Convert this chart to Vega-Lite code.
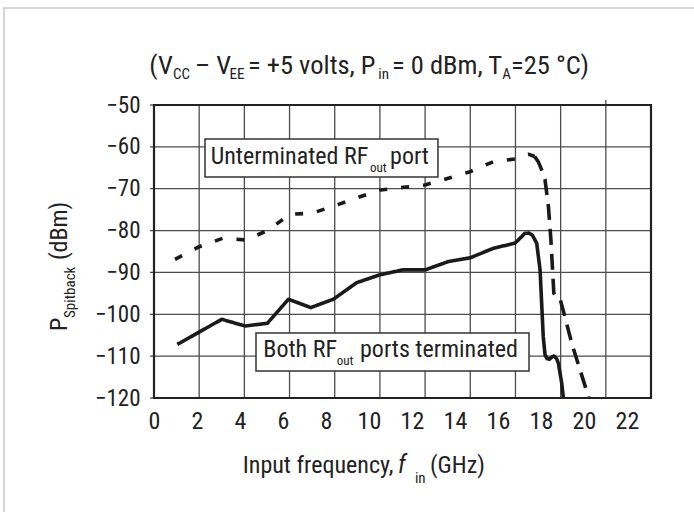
{
  "$schema": "https://vega.github.io/schema/vega-lite/v6.json",
  "width": 497,
  "height": 293,
  "autosize": {"type": "none"},
  "padding": {"left": 154, "top": 105, "right": 43, "bottom": 114},
  "background": "white",
  "config": {
    "view": {"stroke": null},
    "font": "Liberation Sans Narrow, Roboto Condensed, DejaVu Sans Condensed, Arial Narrow, sans-serif"
  },
  "datasets": {
    "series": [
      {"freq": 1.03, "dbm": -107.2, "curve": "Both RFout ports terminated"},
      {"freq": 3.0, "dbm": -101.2, "curve": "Both RFout ports terminated"},
      {"freq": 4.03, "dbm": -102.8, "curve": "Both RFout ports terminated"},
      {"freq": 5.02, "dbm": -102.15, "curve": "Both RFout ports terminated"},
      {"freq": 5.95, "dbm": -96.4, "curve": "Both RFout ports terminated"},
      {"freq": 6.94, "dbm": -98.4, "curve": "Both RFout ports terminated"},
      {"freq": 7.94, "dbm": -96.4, "curve": "Both RFout ports terminated"},
      {"freq": 8.97, "dbm": -92.45, "curve": "Both RFout ports terminated"},
      {"freq": 9.98, "dbm": -90.6, "curve": "Both RFout ports terminated"},
      {"freq": 11.0, "dbm": -89.4, "curve": "Both RFout ports terminated"},
      {"freq": 12.0, "dbm": -89.4, "curve": "Both RFout ports terminated"},
      {"freq": 13.03, "dbm": -87.4, "curve": "Both RFout ports terminated"},
      {"freq": 14.0, "dbm": -86.5, "curve": "Both RFout ports terminated"},
      {"freq": 15.02, "dbm": -84.24, "curve": "Both RFout ports terminated"},
      {"freq": 15.98, "dbm": -83.0, "curve": "Both RFout ports terminated"},
      {"freq": 16.2, "dbm": -81.85, "curve": "Both RFout ports terminated"},
      {"freq": 16.42, "dbm": -80.65, "curve": "Both RFout ports terminated"},
      {"freq": 16.6, "dbm": -80.6, "curve": "Both RFout ports terminated"},
      {"freq": 16.75, "dbm": -81.1, "curve": "Both RFout ports terminated"},
      {"freq": 16.94, "dbm": -83.0, "curve": "Both RFout ports terminated"},
      {"freq": 17.09, "dbm": -89.4, "curve": "Both RFout ports terminated"},
      {"freq": 17.16, "dbm": -97.4, "curve": "Both RFout ports terminated"},
      {"freq": 17.23, "dbm": -105.35, "curve": "Both RFout ports terminated"},
      {"freq": 17.31, "dbm": -109.7, "curve": "Both RFout ports terminated"},
      {"freq": 17.4, "dbm": -110.6, "curve": "Both RFout ports terminated"},
      {"freq": 17.5, "dbm": -110.75, "curve": "Both RFout ports terminated"},
      {"freq": 17.62, "dbm": -110.2, "curve": "Both RFout ports terminated"},
      {"freq": 17.71, "dbm": -109.96, "curve": "Both RFout ports terminated"},
      {"freq": 17.82, "dbm": -110.6, "curve": "Both RFout ports terminated"},
      {"freq": 17.9, "dbm": -111.7, "curve": "Both RFout ports terminated"},
      {"freq": 18.05, "dbm": -116.5, "curve": "Both RFout ports terminated"},
      {"freq": 18.12, "dbm": -120.0, "curve": "Both RFout ports terminated"},
      {"freq": 0.93, "dbm": -86.87, "curve": "Unterminated RFout port"},
      {"freq": 2.0, "dbm": -83.85, "curve": "Unterminated RFout port"},
      {"freq": 3.04, "dbm": -81.85, "curve": "Unterminated RFout port"},
      {"freq": 4.07, "dbm": -82.25, "curve": "Unterminated RFout port"},
      {"freq": 5.02, "dbm": -80.0, "curve": "Unterminated RFout port"},
      {"freq": 6.02, "dbm": -76.1, "curve": "Unterminated RFout port"},
      {"freq": 6.98, "dbm": -75.87, "curve": "Unterminated RFout port"},
      {"freq": 8.01, "dbm": -74.05, "curve": "Unterminated RFout port"},
      {"freq": 9.0, "dbm": -72.15, "curve": "Unterminated RFout port"},
      {"freq": 10.03, "dbm": -70.3, "curve": "Unterminated RFout port"},
      {"freq": 11.04, "dbm": -69.67, "curve": "Unterminated RFout port"},
      {"freq": 12.0, "dbm": -69.1, "curve": "Unterminated RFout port"},
      {"freq": 13.03, "dbm": -67.5, "curve": "Unterminated RFout port"},
      {"freq": 13.99, "dbm": -65.93, "curve": "Unterminated RFout port"},
      {"freq": 15.02, "dbm": -63.54, "curve": "Unterminated RFout port"},
      {"freq": 16.0, "dbm": -62.9, "curve": "Unterminated RFout port"},
      {"freq": 16.28, "dbm": -62.1, "curve": "Unterminated RFout port"},
      {"freq": 16.6, "dbm": -61.8, "curve": "Unterminated RFout port"},
      {"freq": 16.85, "dbm": -62.3, "curve": "Unterminated RFout port"},
      {"freq": 16.85, "dbm": -62.3, "curve": "Unterminated RFout port (roll-off)"},
      {"freq": 17.01, "dbm": -63.54, "curve": "Unterminated RFout port (roll-off)"},
      {"freq": 17.16, "dbm": -65.5, "curve": "Unterminated RFout port (roll-off)"},
      {"freq": 17.31, "dbm": -67.9, "curve": "Unterminated RFout port (roll-off)"},
      {"freq": 17.46, "dbm": -74.3, "curve": "Unterminated RFout port (roll-off)"},
      {"freq": 17.57, "dbm": -82.25, "curve": "Unterminated RFout port (roll-off)"},
      {"freq": 17.65, "dbm": -90.2, "curve": "Unterminated RFout port (roll-off)"},
      {"freq": 17.7, "dbm": -95.0, "curve": "Unterminated RFout port (roll-off)"},
      {"freq": 17.8, "dbm": -95.8, "curve": "Unterminated RFout port (roll-off)"},
      {"freq": 17.97, "dbm": -96.2, "curve": "Unterminated RFout port (roll-off)"},
      {"freq": 18.19, "dbm": -100.6, "curve": "Unterminated RFout port (roll-off)"},
      {"freq": 18.49, "dbm": -106.9, "curve": "Unterminated RFout port (roll-off)"},
      {"freq": 18.86, "dbm": -113.3, "curve": "Unterminated RFout port (roll-off)"},
      {"freq": 19.25, "dbm": -120.0, "curve": "Unterminated RFout port (roll-off)"}
    ],
    "gridlines": [
      {"gridline": "x2", "freq": 2, "dbm": -50}, {"gridline": "x2", "freq": 2, "dbm": -120},
      {"gridline": "x4", "freq": 4, "dbm": -50}, {"gridline": "x4", "freq": 4, "dbm": -120},
      {"gridline": "x6", "freq": 6, "dbm": -50}, {"gridline": "x6", "freq": 6, "dbm": -120},
      {"gridline": "x8", "freq": 8, "dbm": -50}, {"gridline": "x8", "freq": 8, "dbm": -120},
      {"gridline": "x10", "freq": 10, "dbm": -50}, {"gridline": "x10", "freq": 10, "dbm": -120},
      {"gridline": "x12", "freq": 12, "dbm": -50}, {"gridline": "x12", "freq": 12, "dbm": -120},
      {"gridline": "x14", "freq": 14, "dbm": -50}, {"gridline": "x14", "freq": 14, "dbm": -120},
      {"gridline": "x16", "freq": 16, "dbm": -50}, {"gridline": "x16", "freq": 16, "dbm": -120},
      {"gridline": "x18", "freq": 18, "dbm": -50}, {"gridline": "x18", "freq": 18, "dbm": -120},
      {"gridline": "x20", "freq": 20, "dbm": -48.8}, {"gridline": "x20", "freq": 20, "dbm": -120},
      {"gridline": "y-50", "freq": -0.18, "dbm": -50}, {"gridline": "y-50", "freq": 0, "dbm": -50},
      {"gridline": "y-60", "freq": -0.18, "dbm": -60}, {"gridline": "y-60", "freq": 22, "dbm": -60},
      {"gridline": "y-70", "freq": -0.18, "dbm": -70}, {"gridline": "y-70", "freq": 22, "dbm": -70},
      {"gridline": "y-80", "freq": -0.18, "dbm": -80}, {"gridline": "y-80", "freq": 22, "dbm": -80},
      {"gridline": "y-90", "freq": -0.18, "dbm": -90}, {"gridline": "y-90", "freq": 22, "dbm": -90},
      {"gridline": "y-100", "freq": -0.18, "dbm": -100}, {"gridline": "y-100", "freq": 22, "dbm": -100},
      {"gridline": "y-110", "freq": -0.18, "dbm": -110}, {"gridline": "y-110", "freq": 22, "dbm": -110},
      {"gridline": "y-120", "freq": -0.18, "dbm": -120}, {"gridline": "y-120", "freq": 0, "dbm": -120}
    ],
    "frame": [{"freq": -6.64, "freq2": 24.6, "dbm": -26.83, "dbm2": -149.1}],
    "plotBorder": [{"freq": 0, "freq2": 22, "dbm": -50, "dbm2": -120}],
    "labelBoxes": [
      {"label": "Unterminated RFout port", "freq": 2.258, "freq2": 12.57, "dbm": -58.12, "dbm2": -67.2},
      {"label": "Both RFout ports terminated", "freq": 4.515, "freq2": 16.6, "dbm": -104.47, "dbm2": -113.55}
    ],
    "titleMain": [
      {"text": "(V", "freq": -0.208, "dbm": -42.67},
      {"text": "– V", "freq": 1.815, "dbm": -42.67},
      {"text": "= +5 volts, P", "freq": 4.161, "dbm": -42.67},
      {"text": "= 0 dBm, T", "freq": 10.535, "dbm": -42.67},
      {"text": "=25 °C)", "freq": 15.8, "dbm": -42.67}
    ],
    "titleSub": [
      {"text": "CC", "freq": 0.84, "dbm": -43.86},
      {"text": "EE", "freq": 3.34, "dbm": -43.86},
      {"text": "in", "freq": 9.93, "dbm": -43.86},
      {"text": "A", "freq": 15.42, "dbm": -43.86},
      {"text": "in", "freq": 11.55, "dbm": -140.37}
    ],
    "xTitle": [
      {"text": "Input frequency,", "freq": 3.93, "dbm": -137.84},
      {"text": "(GHz)", "freq": 12.22, "dbm": -137.84}
    ],
    "xTitleItalic": [
      {"text": "f", "freq": 10.8, "dbm": -137.84}
    ],
    "yTitle": [
      {"text": "P", "freq": -3.85, "dbm": -103.99},
      {"text": "(dBm)", "freq": -3.85, "dbm": -87.03}
    ],
    "yTitleSub": [
      {"text": "Spitback", "freq": -3.5, "dbm": -100.88}
    ],
    "labelText": [
      {"text": "Unterminated RF", "freq": 2.51, "dbm": -64.09},
      {"text": "port", "freq": 10.45, "dbm": -64.09},
      {"text": "Both RF", "freq": 4.84, "dbm": -110.1},
      {"text": "ports terminated", "freq": 9.12, "dbm": -110.1}
    ],
    "labelSub": [
      {"text": "out", "freq": 9.56, "dbm": -65.93},
      {"text": "out", "freq": 8.09, "dbm": -112.1}
    ]
  },
  "resolve": {"scale": {"x": "independent"}, "axis": {"x": "independent"}},
  "layer": [
    {
      "encoding": {
        "x": {
          "field": "freq", "type": "quantitative",
          "scale": {"domain": [0, 22], "nice": false},
          "axis": null
        },
        "y": {
          "field": "dbm", "type": "quantitative",
          "scale": {"domain": [-120, -50], "nice": false},
          "axis": {
            "values": [-120, -110, -100, -90, -80, -70, -60, -50],
            "grid": false, "domain": false, "ticks": false,
            "labelFontSize": 23, "labelColor": "#222", "labelPadding": 14,
            "title": null
          }
        }
      },
      "layer": [
        {
          "data": {"name": "frame"},
          "mark": {"type": "rect", "fill": "white", "fillOpacity": 0, "stroke": "#c9c9c9", "strokeWidth": 1.5},
          "encoding": {"x2": {"field": "freq2"}, "y2": {"field": "dbm2"}}
        },
        {
          "data": {"name": "gridlines"},
          "mark": {"type": "line", "color": "#4d4d4d", "strokeWidth": 1.3, "strokeCap": "butt"},
          "encoding": {"detail": {"field": "gridline"}}
        },
        {
          "data": {"name": "series"},
          "mark": {"type": "line", "color": "#1a1a1a", "strokeWidth": 3.6, "strokeCap": "butt", "strokeJoin": "round"},
          "encoding": {
            "detail": {"field": "curve"},
            "strokeDash": {
              "field": "curve", "type": "nominal", "legend": null,
              "scale": {
                "domain": ["Both RFout ports terminated", "Unterminated RFout port", "Unterminated RFout port (roll-off)"],
                "range": [[1, 0], [8, 14], [16, 9]]
              }
            }
          }
        },
        {
          "data": {"name": "plotBorder"},
          "mark": {"type": "rect", "fill": "white", "fillOpacity": 0, "stroke": "#222", "strokeWidth": 2.2},
          "encoding": {"x2": {"field": "freq2"}, "y2": {"field": "dbm2"}}
        },
        {
          "data": {"name": "labelBoxes"},
          "mark": {"type": "rect", "fill": "white", "stroke": "#333", "strokeWidth": 1.5},
          "encoding": {"x2": {"field": "freq2"}, "y2": {"field": "dbm2"}}
        },
        {
          "data": {"name": "titleMain"},
          "mark": {"type": "text", "align": "left", "baseline": "alphabetic", "fontSize": 26.5, "color": "#222"},
          "encoding": {"text": {"field": "text"}}
        },
        {
          "data": {"name": "titleSub"},
          "mark": {"type": "text", "align": "left", "baseline": "alphabetic", "fontSize": 15, "color": "#222"},
          "encoding": {"text": {"field": "text"}}
        },
        {
          "data": {"name": "xTitle"},
          "mark": {"type": "text", "align": "left", "baseline": "alphabetic", "fontSize": 24, "color": "#222"},
          "encoding": {"text": {"field": "text"}}
        },
        {
          "data": {"name": "xTitleItalic"},
          "mark": {"type": "text", "align": "left", "baseline": "alphabetic", "fontSize": 25, "fontStyle": "italic", "color": "#222"},
          "encoding": {"text": {"field": "text"}}
        },
        {
          "data": {"name": "yTitle"},
          "mark": {"type": "text", "align": "left", "baseline": "alphabetic", "fontSize": 24, "angle": 270, "color": "#222"},
          "encoding": {"text": {"field": "text"}}
        },
        {
          "data": {"name": "yTitleSub"},
          "mark": {"type": "text", "align": "left", "baseline": "alphabetic", "fontSize": 15, "angle": 270, "color": "#222"},
          "encoding": {"text": {"field": "text"}}
        },
        {
          "data": {"name": "labelText"},
          "mark": {"type": "text", "align": "left", "baseline": "alphabetic", "fontSize": 24, "color": "#222"},
          "encoding": {"text": {"field": "text"}}
        },
        {
          "data": {"name": "labelSub"},
          "mark": {"type": "text", "align": "left", "baseline": "alphabetic", "fontSize": 13, "color": "#222"},
          "encoding": {"text": {"field": "text"}}
        }
      ]
    },
    {
      "data": {"name": "series"},
      "mark": {"type": "point", "opacity": 0},
      "encoding": {
        "x": {
          "field": "freq", "type": "quantitative",
          "scale": {"domain": [0, 23.12], "nice": false},
          "axis": {
            "orient": "bottom",
            "values": [0, 2, 4, 6, 8, 10, 12, 14, 16, 18, 20, 22],
            "grid": false, "ticks": false, "domain": false, "title": null,
            "labelFlush": false,
            "labelFontSize": 24, "labelColor": "#222", "labelPadding": 11
          }
        }
      }
    }
  ]
}
